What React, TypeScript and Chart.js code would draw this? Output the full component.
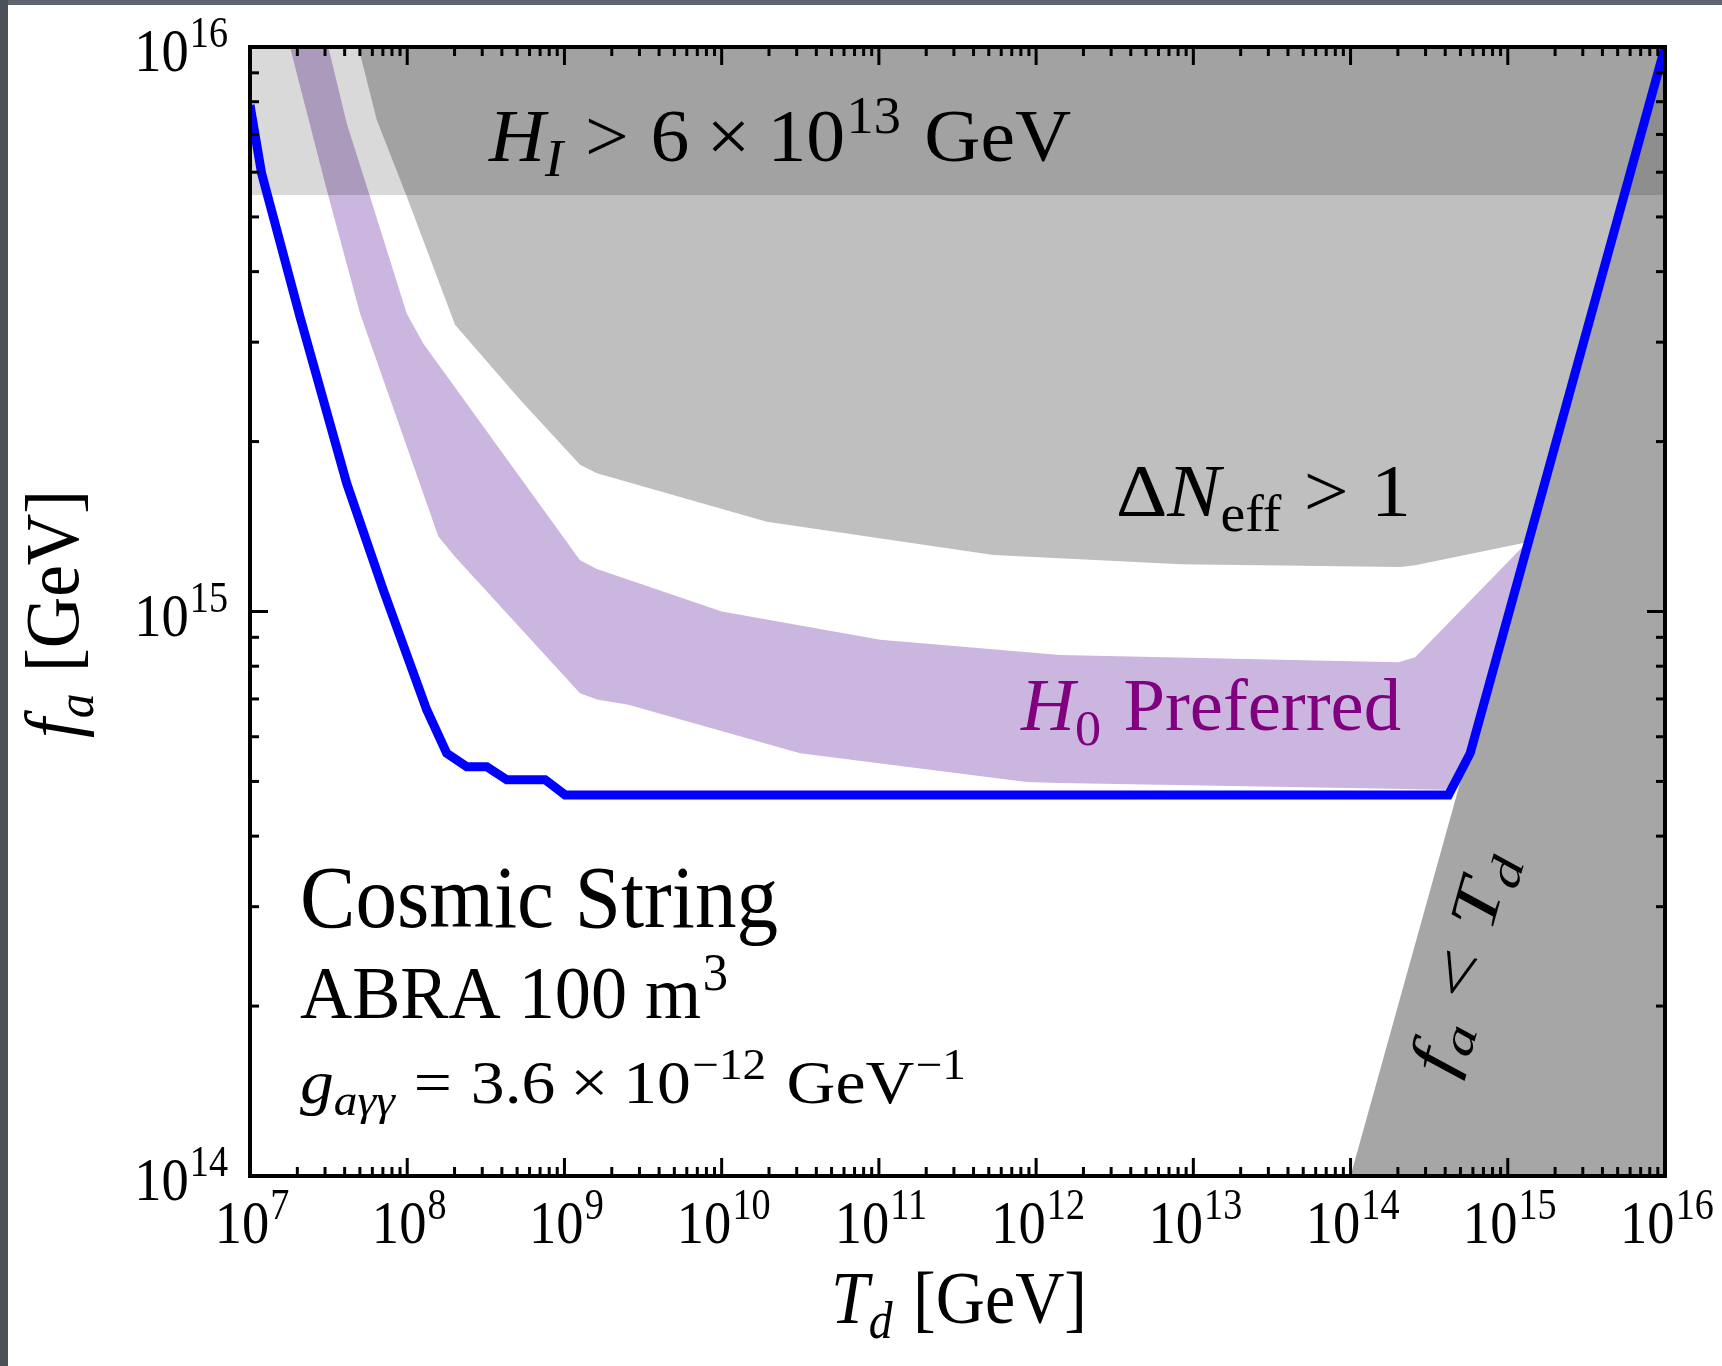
import React, { useEffect, useRef } from 'react';
import { Chart, registerables } from 'chart.js';

Chart.register(...registerables);

const W = 1722;
const H = 1366;
const FONT = '"Liberation Serif", "Times New Roman", serif';

// Axis ranges and tick exponents
const xMin = 1e7;
const xMax = 1e16;
const yMin = 1e14;
const yMax = 1e16;
const xTickExps = [7, 8, 9, 10, 11, 12, 13, 14, 15, 16];
const yTickExps = [14, 15, 16];
const minorMults = [2, 3, 4, 5, 6, 7, 8, 9];

// Blue curve: ABRA 100 m^3 sensitivity (T_d, f_a) in GeV
const blueT = [1.0e7, 1.186e7, 1.406e7, 2.08e7, 4.121e7, 7.047e7, 1.33e8, 1.782e8, 2.393e8, 3.206e8, 4.295e8, 7.534e8, 1.009e9, 4.198e14, 5.768e14, 1e16];
const blueF = [7.889e15, 5.97e15, 5.0e15, 3.327e15, 1.687e15, 1.091e15, 6.699e14, 5.61e14, 5.309e14, 5.309e14, 5.035e14, 5.035e14, 4.732e14, 4.732e14, 5.61e14, 1e16];

// Delta N_eff > 1 excluded region (closed polygon)
const neffT = [4.887e7, 6.397e7, 9.931e7, 2.014e8, 5.224e8, 1.256e9, 1.607e9, 1.936e10, 5.358e11, 8.318e12, 2.07e14, 2.576e14, 1.327e15, 1e16];
const neffF = [1e16, 7.43e15, 5.433e15, 3.221e15, 2.371e15, 1.82e15, 1.758e15, 1.442e15, 1.259e15, 1.213e15, 1.199e15, 1.208e15, 1.327e15, 1e16];

// H0 preferred band (upper edge then lower edge, closed polygon)
const h0T = [3.148e7, 4.121e7, 5.794e7, 9.931e7, 1.265e8, 1.256e9, 1.607e9, 1.002e10, 1.019e11, 1.422e12, 2.018e14, 2.576e14, 1.327e15,
  5.768e14, 4.102e14, 1.422e12, 8.73e11, 3.155e10, 2.553e9, 1.607e9, 1.256e9, 2.014e8, 1.578e8, 5.012e7, 3.076e7, 1.795e7];
const h0F = [1e16, 7.328e15, 5.433e15, 3.373e15, 2.985e15, 1.233e15, 1.189e15, 1.0e15, 8.913e14, 8.375e14, 8.128e14, 8.299e14, 1.327e15,
  5.61e14, 4.831e14, 4.966e14, 4.989e14, 5.61e14, 6.839e14, 6.982e14, 7.161e14, 1.25e15, 1.358e15, 3.373e15, 5.585e15, 1e16];

// f_a < T_d region
const fatdT = [1e14, 1e16, 1e16];
const fatdF = [1e14, 1e16, 1e14];

// H_I > 6e13 GeV band
const hiT = [1e7, 1e16, 1e16, 1e7];
const hiF = [5.47e15, 5.47e15, 1e16, 1e16];

type Seg = { t: string; it?: boolean; sub?: boolean; sup?: boolean; gap?: number };

function segFont(s: Seg, size: number) {
  const fs = s.sub || s.sup ? size * 0.7 : size;
  return `${s.it ? 'italic ' : ''}${fs}px ${FONT}`;
}

function measureRich(ctx: CanvasRenderingContext2D, segs: Seg[], size: number) {
  let w = 0;
  for (const s of segs) {
    w += (s.gap || 0) * size;
    ctx.font = segFont(s, size);
    w += ctx.measureText(s.t).width;
  }
  return w;
}

function drawRich(
  ctx: CanvasRenderingContext2D,
  segs: Seg[],
  size: number,
  x: number,
  y: number,
  opts: { align?: 'left' | 'center' | 'right'; width?: number; sx?: number; color?: string; angle?: number; dy?: number } = {}
) {
  const nat = measureRich(ctx, segs, size);
  const sx = opts.width ? opts.width / nat : opts.sx ?? 1;
  const total = nat * sx;
  ctx.save();
  ctx.translate(x, y);
  if (opts.angle) ctx.rotate(opts.angle);
  const start = opts.align === 'center' ? -total / 2 : opts.align === 'right' ? -total : 0;
  ctx.translate(start, opts.dy || 0);
  ctx.scale(sx, 1);
  ctx.fillStyle = opts.color || '#000';
  ctx.textBaseline = 'alphabetic';
  ctx.textAlign = 'left';
  let cx = 0;
  for (const s of segs) {
    cx += (s.gap || 0) * size;
    ctx.font = segFont(s, size);
    const oy = s.sup ? -0.38 * size : s.sub ? 0.2 * size : 0;
    ctx.fillText(s.t, cx, oy);
    cx += ctx.measureText(s.t).width;
  }
  ctx.restore();
}

const pts = (a: number[], b: number[]) => a.map((v, i) => ({ x: v, y: b[i] }));

const backgroundPlugin = {
  id: 'bgFrame',
  beforeDraw(chart: any) {
    const ctx = chart.ctx as CanvasRenderingContext2D;
    ctx.save();
    ctx.fillStyle = '#ffffff';
    ctx.fillRect(0, 0, W, H);
    ctx.fillStyle = '#60646f';
    ctx.fillRect(0, 0, W, 5);
    ctx.fillStyle = '#4b505b';
    ctx.fillRect(0, 0, 8, H);
    ctx.restore();
  },
};

const annotatePlugin = {
  id: 'annotate',
  afterDatasetsDraw(chart: any) {
    const ctx = chart.ctx as CanvasRenderingContext2D;
    const xs = chart.scales.x;
    const ys = chart.scales.y;
    // region labels
    drawRich(ctx, [
      { t: 'H', it: true }, { t: 'I', it: true, sub: true }, { t: '>', gap: 0.28 }, { t: '6', gap: 0.28 },
      { t: '×', gap: 0.22 }, { t: '10', gap: 0.22 }, { t: '13', sup: true, gap: 0.02 }, { t: 'GeV', gap: 0.3 },
    ], 75, 489, 161, { width: 582 });
    drawRich(ctx, [
      { t: 'Δ' }, { t: 'N', it: true }, { t: 'eff', sub: true }, { t: '>', gap: 0.28 }, { t: '1', gap: 0.28 },
    ], 74, 1116, 516, { width: 295 });
    drawRich(ctx, [
      { t: 'H', it: true }, { t: '0', sub: true }, { t: 'Preferred', gap: 0.3 },
    ], 73, 1021, 730, { width: 380, color: '#800080' });
    // f_a < T_d rotated along the diagonal boundary
    const x1 = xs.getPixelForValue(1e14), y1 = ys.getPixelForValue(1e14);
    const x2 = xs.getPixelForValue(1e16), y2 = ys.getPixelForValue(1e16);
    const ang = Math.atan2(y2 - y1, x2 - x1);
    drawRich(ctx, [
      { t: 'f', it: true }, { t: 'a', it: true, sub: true }, { t: '<', gap: 0.28 }, { t: 'T', it: true, gap: 0.28 }, { t: 'd', it: true, sub: true },
    ], 66, 1462, 963, { width: 228, align: 'center', angle: ang, dy: 20 });
    // info text
    drawRich(ctx, [{ t: 'Cosmic String' }], 88, 300, 927, { width: 478 });
    drawRich(ctx, [{ t: 'ABRA 100 m' }, { t: '3', sup: true, gap: 0.02 }], 75, 300, 1018, { width: 428 });
    drawRich(ctx, [
      { t: 'g', it: true }, { t: 'aγγ', it: true, sub: true }, { t: '=', gap: 0.28 }, { t: '3.6', gap: 0.28 },
      { t: '×', gap: 0.22 }, { t: '10', gap: 0.22 }, { t: '−12', sup: true, gap: 0.02 }, { t: 'GeV', gap: 0.3 }, { t: '−1', sup: true, gap: 0.02 },
    ], 62, 300, 1103, { width: 666 });
  },
  afterDraw(chart: any) {
    const ctx = chart.ctx as CanvasRenderingContext2D;
    const xs = chart.scales.x;
    const ys = chart.scales.y;
    const { left, right, top, bottom } = chart.chartArea;
    ctx.save();
    ctx.strokeStyle = '#000';
    ctx.lineCap = 'butt';
    const seg = (ax: number, ay: number, bx: number, by: number) => {
      ctx.beginPath();
      ctx.moveTo(ax, ay);
      ctx.lineTo(bx, by);
      ctx.stroke();
    };
    ctx.lineWidth = 3;
    const majorLen = 18;
    const minorLen = 9;
    for (const e of xTickExps) {
      const base = Math.pow(10, e);
      const px = xs.getPixelForValue(base);
      seg(px, bottom, px, bottom - majorLen);
      seg(px, top, px, top + majorLen);
      if (base < xMax) {
        for (const m of minorMults) {
          const mx = xs.getPixelForValue(m * base);
          seg(mx, bottom, mx, bottom - minorLen);
          seg(mx, top, mx, top + minorLen);
        }
      }
    }
    for (const e of yTickExps) {
      const base = Math.pow(10, e);
      const py = ys.getPixelForValue(base);
      seg(left, py, left + majorLen, py);
      seg(right, py, right - majorLen, py);
      if (base < yMax) {
        for (const m of minorMults) {
          const my = ys.getPixelForValue(m * base);
          seg(left, my, left + minorLen, my);
          seg(right, my, right - minorLen, my);
        }
      }
    }
    ctx.lineWidth = 4;
    ctx.strokeRect(left, top, right - left, bottom - top);
    ctx.restore();

    // tick labels
    for (const e of xTickExps) {
      const px = xs.getPixelForValue(Math.pow(10, e));
      drawRich(ctx, [{ t: '10' }, { t: String(e), sup: true, gap: 0.02 }], 62, px + 2, bottom + 67, { align: 'center', sx: 0.88 });
    }
    for (const e of yTickExps) {
      const py = ys.getPixelForValue(Math.pow(10, e));
      drawRich(ctx, [{ t: '10' }, { t: String(e), sup: true, gap: 0.02 }], 62, left - 22, py + 24, { align: 'right', sx: 0.88 });
    }
    // axis titles
    drawRich(ctx, [{ t: 'T', it: true }, { t: 'd', it: true, sub: true }, { t: '[GeV]', gap: 0.3 }], 74, 831, 1323, { width: 256 });
    drawRich(ctx, [{ t: 'f', it: true }, { t: 'a', it: true, sub: true }, { t: '[GeV]', gap: 0.3 }], 76, 78, 738, { width: 248, angle: -Math.PI / 2 });
  },
};

export default function App() {
  const ref = useRef<HTMLCanvasElement | null>(null);

  useEffect(() => {
    if (!ref.current) return;
    const fillDs = (label: string, t: number[], f: number[], color: string, order: number) => ({
      label,
      data: pts(t, f),
      backgroundColor: color,
      borderColor: 'rgba(0,0,0,0)',
      borderWidth: 0,
      pointRadius: 0,
      pointHoverRadius: 0,
      fill: 'shape',
      order,
      tension: 0,
    });
    const chart = new Chart(ref.current, {
      type: 'line',
      data: {
        datasets: [
          {
            label: 'ABRA 100 m^3',
            data: pts(blueT, blueF),
            borderColor: '#0000ff',
            backgroundColor: '#0000ff',
            borderWidth: 9,
            borderJoinStyle: 'miter',
            pointRadius: 0,
            pointHoverRadius: 0,
            fill: false,
            order: 0,
            clip: 0,
            tension: 0,
          } as any,
          fillDs('H_I > 6e13 GeV', hiT, hiF, 'rgba(0,0,0,0.15)', 1),
          fillDs('f_a < T_d', fatdT, fatdF, '#a6a6a6', 2),
          fillDs('H0 Preferred', h0T, h0F, '#cab6de', 3),
          fillDs('Delta N_eff > 1', neffT, neffF, '#bfbfbf', 4),
        ] as any,
      },
      options: {
        responsive: false,
        animation: false,
        devicePixelRatio: 1,
        events: [],
        layout: { padding: { left: 250, right: 57, top: 47, bottom: 190 } },
        scales: {
          x: { type: 'logarithmic', min: xMin, max: xMax, display: false },
          y: { type: 'logarithmic', min: yMin, max: yMax, display: false },
        },
        plugins: {
          legend: { display: false },
          tooltip: { enabled: false },
          filler: { propagate: false },
        },
      } as any,
      plugins: [backgroundPlugin, annotatePlugin],
    });
    return () => chart.destroy();
  }, []);

  return (
    <div style={{ position: 'fixed', left: 0, top: 0, width: W, height: H, background: '#fff' }}>
      <canvas ref={ref} width={W} height={H} style={{ display: 'block', width: W, height: H }} />
    </div>
  );
}
